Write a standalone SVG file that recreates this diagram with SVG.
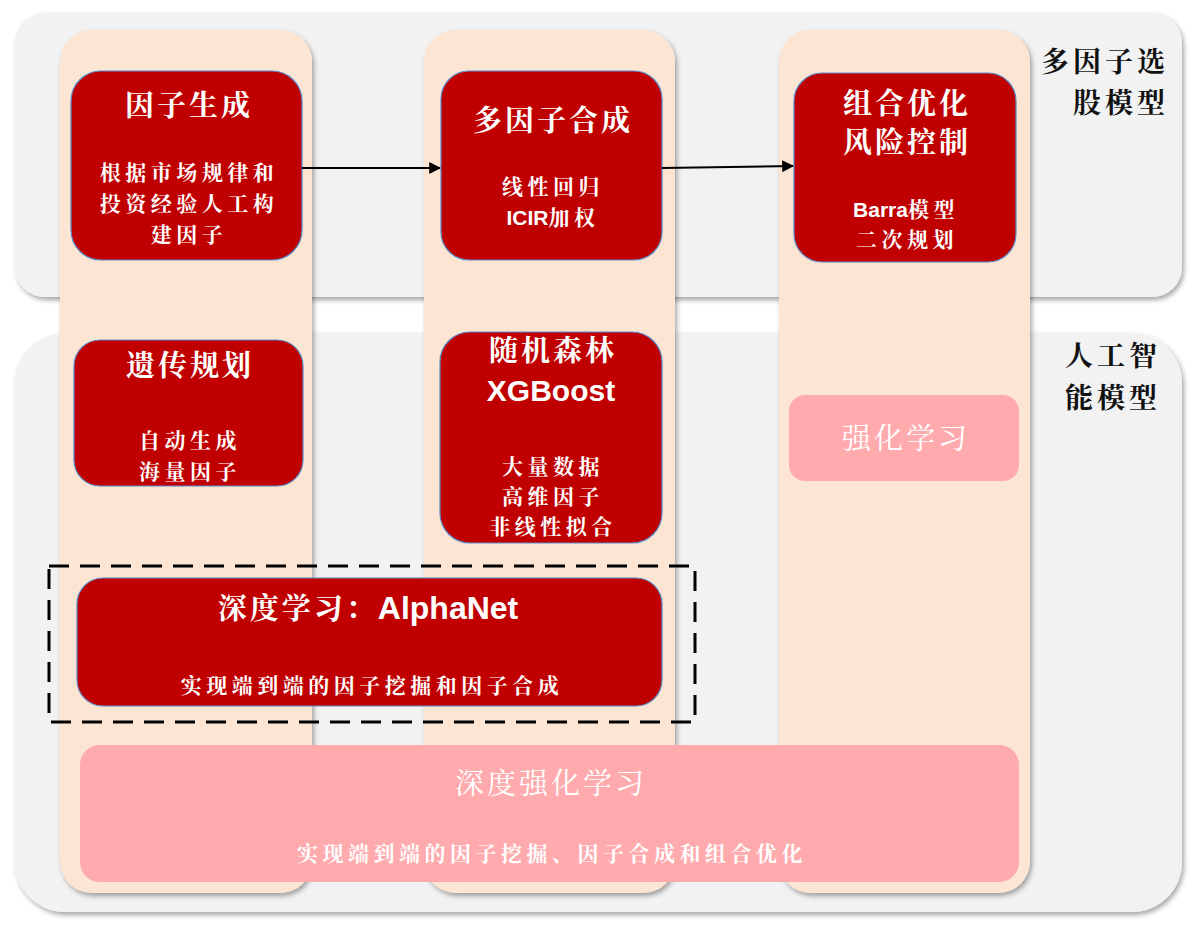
<svg xmlns="http://www.w3.org/2000/svg" width="1194" height="930" viewBox="0 0 1194 930">
<defs>
<filter id="sh" x="-5%" y="-5%" width="110%" height="110%">
<feDropShadow dx="2" dy="3" stdDeviation="2.5" flood-color="#000" flood-opacity="0.35"/>
</filter>
<marker id="arr" viewBox="0 0 10 10" refX="9" refY="5" markerWidth="6" markerHeight="6" orient="auto">
<path d="M0,0 L10,5 L0,10 z" fill="#000"/>
</marker>
<style>
.panel{fill:#f2f2f2;filter:url(#sh)}
.col{fill:#fde5d3;filter:url(#sh)}
.red{fill:#c00000;stroke:#5b8bc8;stroke-width:1.2}
.pink{fill:#ffabae}
.t{font-family:"Noto Serif CJK SC","Noto Sans CJK SC",serif;font-weight:bold;fill:#fff;text-anchor:middle}
.tt{font-size:29px;letter-spacing:3px}
.ts{font-size:21px;letter-spacing:4.5px}
.lat{font-family:"Liberation Sans","Noto Sans CJK SC",sans-serif;font-weight:bold;fill:#fff;text-anchor:middle}
.cj{font-family:"Noto Serif CJK SC","Noto Sans CJK SC",serif;letter-spacing:4.5px}
.lab{font-family:"Noto Serif CJK SC","Noto Sans CJK SC",serif;font-weight:bold;font-size:28px;letter-spacing:4px;fill:#111;text-anchor:end}
.conn{stroke:#000;stroke-width:2;fill:none;marker-end:url(#arr)}
</style>
</defs>
<rect width="1194" height="930" fill="#fff"/>
<g id="panel-top"><rect class="panel" x="15" y="13" width="1167" height="284" rx="30"/></g>
<g id="panel-bottom"><rect class="panel" x="15" y="333" width="1167" height="579" rx="50"/></g>
<g id="col1"><rect class="col" x="60" y="30" width="252" height="863" rx="32"/></g>
<g id="col2"><rect class="col" x="424" y="30" width="251" height="863" rx="32"/></g>
<g id="col3"><rect class="col" x="779" y="30" width="251" height="863" rx="32"/></g>
<g id="label-multi"><text class="lab" x="1169" y="72">多因子选</text><text class="lab" x="1169" y="113">股模型</text></g>
<g id="label-ai"><text class="lab" x="1161" y="366">人工智</text><text class="lab" x="1161" y="408">能模型</text></g>
<g id="n-factor-gen">
<rect class="red" x="71" y="71" width="231" height="189" rx="30"/>
<text class="t tt" x="189" y="116">因子生成</text>
<text class="t ts" x="189" y="180">根据市场规律和</text>
<text class="t ts" x="189" y="211">投资经验人工构</text>
<text class="t ts" x="189" y="242">建因子</text>
</g>
<g id="n-multi">
<rect class="red" x="441" y="71" width="221" height="189" rx="28"/>
<text class="t tt" x="553" y="131">多因子合成</text>
<text class="t ts" x="553" y="194">线性回归</text>
<text class="lat" font-size="21" x="553" y="225">ICIR<tspan class="cj">加权</tspan></text>
</g>
<g id="n-opt">
<rect class="red" x="794" y="73" width="222" height="189" rx="28"/>
<text class="t tt" x="907" y="114">组合优化</text>
<text class="t tt" x="907" y="153">风险控制</text>
<text class="lat" font-size="21" x="906" y="217">Barra<tspan class="cj">模型</tspan></text>
<text class="t ts" x="907" y="247">二次规划</text>
</g>
<g id="n-gp">
<rect class="red" x="74" y="340" width="229" height="146" rx="26"/>
<text class="t tt" x="190" y="376">遗传规划</text>
<text class="t ts" x="190" y="448">自动生成</text>
<text class="t ts" x="190" y="479">海量因子</text>
</g>
<g id="n-rf">
<rect class="red" x="440" y="332" width="222" height="211" rx="30"/>
<text class="t tt" x="553" y="361">随机森林</text>
<text class="lat" font-size="30" x="551" y="401">XGBoost</text>
<text class="t ts" x="553" y="474">大量数据</text>
<text class="t ts" x="553" y="504">高维因子</text>
<text class="t ts" x="553" y="534">非线性拟合</text>
</g>
<g id="n-rl">
<rect class="pink" x="789" y="395" width="230" height="86" rx="16"/>
<text class="t tt" x="906" y="449" style="font-weight:normal">强化学习</text>
</g>
<g id="dashed-box"><rect x="49" y="566" width="646" height="156" fill="none" stroke="#000" stroke-width="3" stroke-dasharray="20,11"/></g>
<g id="n-alphanet">
<rect class="red" x="77" y="578" width="585" height="128" rx="26"/>
<text class="t tt" x="368" y="619">深度学习：<tspan font-family="Liberation Sans,sans-serif" font-size="32" letter-spacing="0">AlphaNet</tspan></text>
<text class="t ts" x="372" y="693">实现端到端的因子挖掘和因子合成</text>
</g>
<g id="n-drl">
<rect class="pink" x="80" y="745" width="939" height="137" rx="20"/>
<text class="t tt" x="551" y="794" style="font-weight:normal">深度强化学习</text>
<text class="t ts" x="552" y="861">实现端到端的因子挖掘、因子合成和组合优化</text>
</g>
<g id="connectors">
<line class="conn" x1="302" y1="168" x2="440" y2="168"/>
<line class="conn" x1="662" y1="168" x2="793" y2="166"/>
</g>
</svg>
